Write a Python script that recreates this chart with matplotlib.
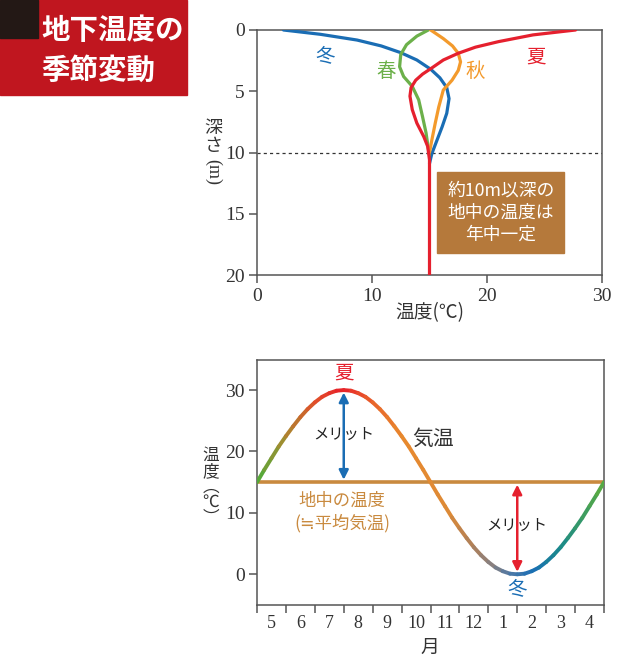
import numpy as np
import matplotlib
matplotlib.use('Agg')
import matplotlib.pyplot as plt
from matplotlib.collections import LineCollection
from matplotlib.colors import LinearSegmentedColormap
from matplotlib.patches import Rectangle

plt.rcParams['font.family'] = ['Noto Sans CJK JP', 'DejaVu Sans']

# ---- data: ground temperature by depth (temp degC, depth m)
winter_t = [2.3, 5.5, 8.7, 10.8, 12.5, 13.9, 15.1, 15.9, 16.5, 16.7, 16.5, 16.1, 15.65, 15.2, 15.0]
winter_d = [0.0, 0.35, 0.82, 1.3, 1.85, 2.45, 3.2, 3.9, 4.7, 5.6, 6.8, 7.9, 9.0, 10.1, 10.9]
spring_t = [14.9, 13.9, 13.0, 12.5, 12.4, 12.75, 13.5, 14.06, 14.4, 14.7, 14.87, 15.0]
spring_d = [0.0, 0.5, 1.2, 2.0, 3.0, 3.8, 4.6, 5.7, 7.1, 8.4, 9.5, 10.2]
autumn_t = [15.1, 16.2, 17.0, 17.5, 17.7, 17.5, 16.96, 16.2, 15.8, 15.5, 15.2, 15.0]
autumn_d = [0.0, 0.7, 1.3, 1.9, 2.6, 3.3, 4.1, 4.9, 6.3, 7.6, 9.0, 10.0]
summer_t = [27.7, 24.0, 21.0, 19.0, 17.5, 16.2, 15.2, 14.4, 13.8, 13.4, 13.3, 13.5, 13.9, 14.5, 14.84, 15.0, 15.0]
summer_d = [0.0, 0.4, 0.95, 1.4, 1.9, 2.45, 3.1, 3.6, 4.1, 4.7, 5.4, 6.5, 7.6, 8.7, 9.5, 10.6, 20.0]

# ---- data: air temperature through the year (months from start of May)
air_month = [i * 0.25 for i in range(49)]
air_temp = [15.0, 17.0, 18.9, 20.8, 22.5, 24.1, 25.6, 26.9, 28.0, 28.9, 29.5, 29.9, 30.0,
            29.9, 29.5, 28.9, 28.0, 26.9, 25.6, 24.1, 22.5, 20.8, 18.9, 17.0, 15.0,
            13.0, 11.1, 9.2, 7.5, 5.9, 4.4, 3.1, 2.0, 1.1, 0.5, 0.1, 0.0,
            0.1, 0.5, 1.1, 2.0, 3.1, 4.4, 5.9, 7.5, 9.2, 11.1, 13.0, 15.0]
ground_temp = 15
month_labels = ['5', '6', '7', '8', '9', '10', '11', '12', '1', '2', '3', '4']

BLUE = '#1a6db4'
GREEN = '#6cb04a'
ORANGE = '#f39a2c'
RED = '#e5202e'
BROWN = '#c98a3f'
SPINE = '#555555'
TXT = '#333333'
serif = 'Liberation Serif'

fig = plt.figure(figsize=(6.4, 6.68), dpi=100)
W, H = 640, 668

def px_axes(l, t, r, b):
    return fig.add_axes([l / W, 1 - b / H, (r - l) / W, (b - t) / H])

def ftext(x, y, s, **kw):
    fig.text(x / W, 1 - y / H, s, ha='center', va='center', **kw)

# ---- title box
fig.patches.append(Rectangle((0, 1 - 95 / H), 187 / W, 95 / H, transform=fig.transFigure,
                             color='#c0161f', zorder=0))
fig.patches.append(Rectangle((0, 1 - 38 / H), 38 / W, 38 / H, transform=fig.transFigure,
                             color='#231815', zorder=1))
fig.text(41 / W, 1 - 31 / H, '地下温度の', color='white', fontsize=20.5, weight='bold',
         ha='left', va='center')
fig.text(41 / W, 1 - 71 / H, '季節変動', color='white', fontsize=20.5, weight='bold',
         ha='left', va='center')

# ---- top chart
ax1 = px_axes(257, 30, 602, 275)
ax1.plot(winter_t, winter_d, color=BLUE, lw=2.3, solid_capstyle='round', zorder=3)
ax1.plot(spring_t, spring_d, color=GREEN, lw=2.3, solid_capstyle='round', zorder=3)
ax1.plot(autumn_t, autumn_d, color=ORANGE, lw=2.3, solid_capstyle='round', zorder=3)
ax1.plot(summer_t, summer_d, color=RED, lw=2.3, solid_capstyle='round', zorder=4)
ax1.axhline(10, color='#333333', lw=0.9, ls=(0, (2.5, 2.5)), zorder=2)
ax1.set_xlim(0, 30)
ax1.set_ylim(20, 0)
ax1.set_xticks([0, 10, 20, 30])
ax1.set_yticks([0, 5, 10, 15, 20])

ax1.text(5.9, 2.2, '冬', color=BLUE, fontsize=14, ha='center', va='center')
ax1.text(11.2, 3.4, '春', color=GREEN, fontsize=14, ha='center', va='center')
ax1.text(19.0, 3.4, '秋', color=ORANGE, fontsize=14, ha='center', va='center')
ax1.text(24.3, 2.2, '夏', color=RED, fontsize=14, ha='center', va='center')
ax1.add_patch(Rectangle((15.65, 11.57), 11.05, 6.63, color='#b5793b', zorder=5))
ax1.text(21.2, 14.9, '約10m以深の\n地中の温度は\n年中一定', color='white', fontsize=12.8,
         ha='center', va='center', linespacing=1.3, zorder=6)

# ---- bottom chart
ax2 = px_axes(257, 360, 604, 605)
cmap = LinearSegmentedColormap.from_list('air', [
    (0.0, '#4fab3a'), (0.08, '#a88a30'), (0.17, '#e0502a'), (0.25, '#e8202a'),
    (0.33, '#e8602a'), (0.42, '#e8892e'), (0.55, '#de8a36'), (0.62, '#b08058'),
    (0.68, '#888080'), (0.74, '#4a78a8'), (0.8, '#1a6fb4'), (0.88, '#1a8a8a'),
    (1.0, '#5aab40')])
pts = np.column_stack([air_month, air_temp])
segs = np.stack([pts[:-1], pts[1:]], axis=1)
mid = (np.array(air_month[:-1]) + np.array(air_month[1:])) / 2 / 12
lc = LineCollection(segs, colors=cmap(mid), linewidths=2.8, capstyle='round', zorder=3)
ax2.add_collection(lc)
ax2.axhline(ground_temp, color=BROWN, lw=2.6, zorder=2)

ax2.annotate('', xy=(3, 29.6), xytext=(3, 15.4),
             arrowprops=dict(arrowstyle='<|-|>', color=BLUE, lw=1.8, mutation_scale=14,
                             shrinkA=0, shrinkB=0), zorder=4)
ax2.annotate('', xy=(9, 14.6), xytext=(9, 0.4),
             arrowprops=dict(arrowstyle='<|-|>', color=RED, lw=1.8, mutation_scale=14,
                             shrinkA=0, shrinkB=0), zorder=4)
ax2.text(3, 22.8, 'メリット', fontsize=11, ha='center', va='center', color='#222222', zorder=5)
ax2.text(9, 7.9, 'メリット', fontsize=11, ha='center', va='center', color='#222222', zorder=5)
ax2.text(6.1, 22.0, '気温', fontsize=15, ha='center', va='center', color=TXT)
ax2.text(2.95, 10.1, '地中の温度\n(≒平均気温)', fontsize=12.5, ha='center', va='center',
         color=BROWN, linespacing=1.3)
ax2.text(3, 32.7, '夏', fontsize=14, ha='center', va='center', color=RED)
ax2.text(9, -2.5, '冬', fontsize=14, ha='center', va='center', color=BLUE)

ax2.set_xlim(0, 12)
ax2.set_ylim(-5, 34.9)
ax2.set_yticks([0, 10, 20, 30])
ax2.set_xticks(range(13))
ax2.set_xticklabels([])
ax2.set_xticks([i + 0.5 for i in range(12)], minor=True)
ax2.set_xticklabels(month_labels, minor=True)
ax2.tick_params(axis='x', which='minor', length=0, pad=7)

for ax in (ax1, ax2):
    for s in ax.spines.values():
        s.set_color(SPINE)
        s.set_linewidth(1.1)
    ax.tick_params(which='major', direction='out', length=6, width=1.1, color=SPINE, pad=3)
    for lab in ax.get_xticklabels(which='both') + ax.get_yticklabels():
        lab.set_fontfamily(serif)
        lab.set_fontsize(14)
        lab.set_color(TXT)
for lab in ax2.get_xticklabels(which='minor'):
    lab.set_fontsize(13)

# axis titles
ftext(430, 313, '温度(℃)', fontsize=13.5, color=TXT)
ftext(430, 647, '月', fontsize=13.5, color=TXT)
ftext(213, 137, '深\nさ', fontsize=13, color=TXT, linespacing=1.0)
ftext(213, 172, '(m)', fontsize=13, color=TXT, rotation=270, family=serif)
ftext(211, 487, '温\n度\n︵\n℃\n︶', fontsize=12, color=TXT, linespacing=0.9)

fig.savefig('out.png', dpi=100)
